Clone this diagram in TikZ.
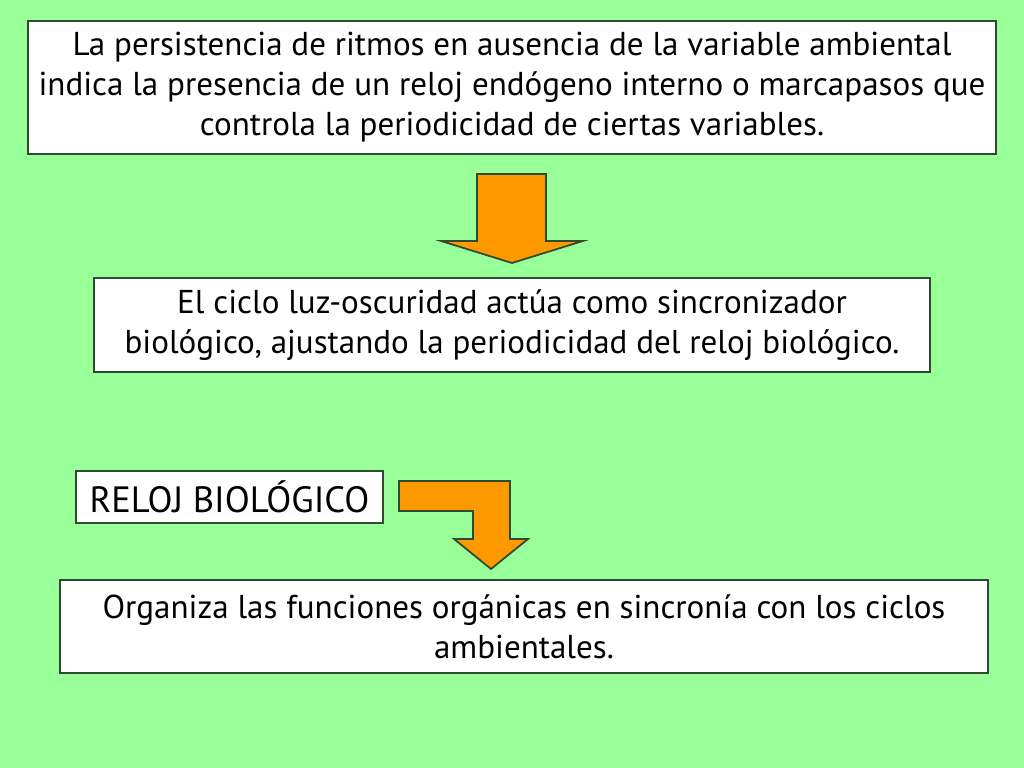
\documentclass[tikz,border=0pt]{standalone}
\usepackage{fontspec}
\setmainfont{PT Sans}
\definecolor{fondo}{HTML}{99FF99}
\definecolor{naranja}{HTML}{FF9900}
\definecolor{borde}{HTML}{2F4A2F}
\tikzset{
    caja/.style={draw=borde, fill=white, line width=0.6pt, inner sep=0pt,
        align=center, font=\fontsize{9.4}{11.4}\selectfont},
    flecha/.style={draw=borde, fill=naranja, line width=0.5pt, line join=miter}
}

\begin{document}
\begin{tikzpicture}[x=0.01cm, y=-0.01cm]
  % fondo
  \fill[fondo] (0,0) rectangle (1024,768);
  \useasboundingbox (0,0) rectangle (1024,768);

  \node (c_1) [caja, minimum width=9.68cm, minimum height=1.33cm] at (512, 87.5)
    {La persistencia de ritmos en ausencia de la variable ambiental\\
     indica la presencia de un reloj endógeno interno o marcapasos que\\
     controla la periodicidad de ciertas variables.};
  \node (c_2) [caja, minimum width=8.36cm, minimum height=0.94cm] at (512, 325)
    {El ciclo luz-oscuridad actúa como sincronizador\\
     biológico, ajustando la periodicidad del reloj biológico.};
  \node (reloj) [caja, minimum width=3.07cm, minimum height=0.52cm,
    font=\fontsize{10.4}{12}\selectfont] at (229.5, 497)
    {RELOJ BIOLÓGICO};
  \node (c_3) [caja, minimum width=9.28cm, minimum height=0.93cm] at (524, 626.5)
    {Organiza las funciones orgánicas en sincronía con los ciclos\\
     ambientales.};

  % flechas
  \draw[flecha] (477,174) -- (546,174) -- (546,241) -- (583,241) -- (512,263)
    -- (441,241) -- (477,241) -- cycle;
  \draw[flecha] (399,481) -- (510,481) -- (510,539) -- (528,539) -- (491,569)
    -- (454,539) -- (473,539) -- (473,511) -- (399,511) -- cycle;
\end{tikzpicture}
\end{document}
